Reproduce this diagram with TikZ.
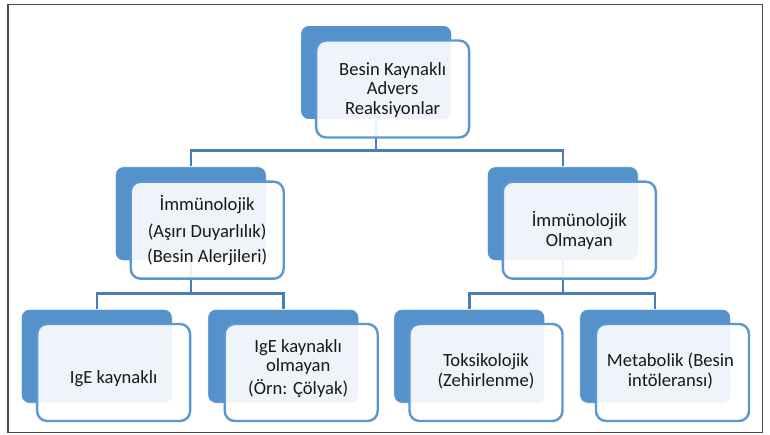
\documentclass[tikz,border=0pt]{standalone}
\usepackage{fontspec}
\setmainfont{Carlito}
\definecolor{backblue}{HTML}{5592CB}
\definecolor{frontblue}{HTML}{5B97D2}
\definecolor{linkblue}{HTML}{4A7DB8}
\definecolor{framegray}{HTML}{4A4A4A}
\begin{document}
\begin{tikzpicture}[x=1pt,y=-1pt,
  backbox/.style={draw=white, line width=0.8pt, fill=backblue, rounded corners=8pt,
    minimum width=151pt, minimum height=94pt, inner sep=0pt},
  frontbox/.style={draw=frontblue, line width=2.4pt, fill=white, fill opacity=0.9,
    rounded corners=10pt, minimum width=153pt, minimum height=97pt, inner sep=0pt},
  boxtext/.style={align=center, inner sep=0pt, text=black!90,
    font=\fontsize{18.6}{19.8}\selectfont},
  link/.style={draw=linkblue, line width=2.5pt}]
\useasboundingbox (0,0) rectangle (770,435);
\fill[white] (0,0) rectangle (770,435);
\draw[framegray, line width=1.6pt] (8,4.5) rectangle (762.5,432.5);

% back boxes
\node[backbox] (topb) at (376.2,72.5) {};
\node[backbox] (mlb) at (190.8,213.7) {};
\node[backbox] (mrb) at (562.8,213.7) {};
\node[backbox] (bl1b) at (96.8,356.3) {};
\node[backbox] (bl2b) at (283.3,356.3) {};
\node[backbox] (br1b) at (469.3,356.3) {};
\node[backbox] (br2b) at (655.2,356.3) {};

% connectors
\coordinate (bus1) at (0,150.5);
\coordinate (bus2) at (0,293.5);
\draw[link] (topb.south) -- (topb.south |- bus1) -| (mlb.north);
\draw[link] (topb.south |- bus1) -| (mrb.north);
\draw[link] (mlb.south) -- (mlb.south |- bus2) -| (bl1b.north);
\draw[link] (mlb.south |- bus2) -| (bl2b.north);
\draw[link] (mrb.south) -- (mrb.south |- bus2) -| (br1b.north);
\draw[link] (mrb.south |- bus2) -| (br2b.north);

% front boxes
\node[frontbox] (topf) at (392.6,89) {};
\node[frontbox] (mlf) at (207.2,230.2) {};
\node[frontbox] (mrf) at (579.3,230.2) {};
\node[frontbox] (bl1f) at (113.6,372.5) {};
\node[frontbox] (bl2f) at (301.2,372.5) {};
\node[frontbox] (br1f) at (486,372.5) {};
\node[frontbox] (br2f) at (672.5,372.5) {};

% texts
\node[boxtext] (topt) at ([yshift=-1pt]topf.center) {Besin Kaynaklı\\Advers\\Reaksiyonlar};
\node[boxtext] (mlt) at ([yshift=-0.5pt]mlf.center) {İmmünolojik\\[7pt](Aşırı Duyarlılık)\\[6pt](Besin Alerjileri)};
\node[boxtext] (mrt) at ([yshift=-0.5pt]mrf.center) {İmmünolojik\\Olmayan};
\node[boxtext] (bl1t) at ([yshift=-6pt]bl1f.center) {IgE kaynaklı};
\node[boxtext] (bl2t) at ([xshift=-3pt,yshift=4pt]bl2f.center) {IgE kaynaklı\\olmayan\\[3pt](Örn: Çölyak)};
\node[boxtext] (br1t) at ([yshift=1.5pt]br1f.center) {Toksikolojik\\(Zehirlenme)};
\node[boxtext] (br2t) at ([xshift=-2pt,yshift=1.5pt]br2f.center) {Metabolik (Besin\\intöleransı)};
\end{tikzpicture}
\end{document}
